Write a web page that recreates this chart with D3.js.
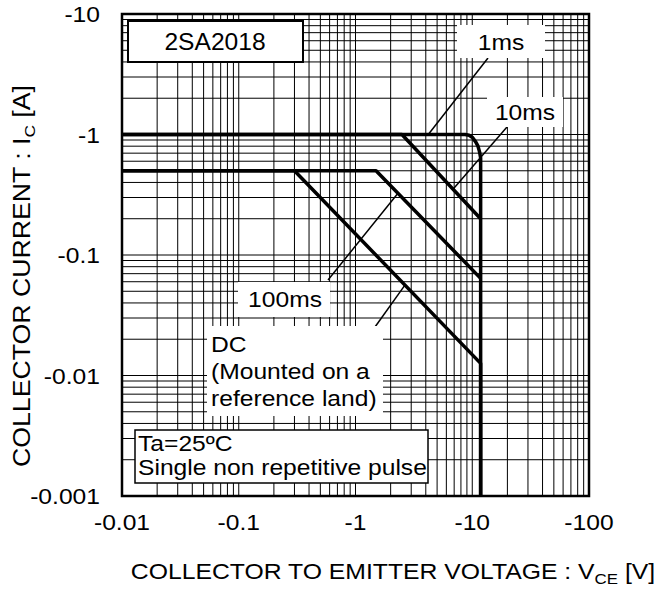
<!DOCTYPE html>
<html>
<head>
<meta charset="utf-8">
<script src="https://cdn.jsdelivr.net/npm/d3@7"></script>
<style>
  body { margin: 0; background: #fff; }
  text { font-family: "Liberation Sans", Arial, sans-serif; fill: #000; }
</style>
</head>
<body>
<svg id="chart" width="661" height="609"></svg>
<script>
// safe operating area, 2SA2018 (values negative, as on the datasheet)
const xTicks = [-0.01, -0.1, -1, -10, -100];
const xTickLabels = ['-0.01', '-0.1', '-1', '-10', '-100'];
const yTicks = [-10, -1, -0.1, -0.01, -0.001];
const yTickLabels = ['-10', '-1', '-0.1', '-0.01', '-0.001'];

// 1ms envelope: Ic max, rounded corner, then Vceo limit
const vce1ms = [-0.01, -8.7, -9.4, -10.05, -10.7, -11.2, -11.55, -11.8, -11.8];
const ic1ms  = [-1, -1, -0.985, -0.943, -0.868, -0.80, -0.717, -0.64, -0.001];
const vce10ms = [-0.01, -2.5, -11.8];
const ic10ms  = [-1, -1, -0.2];
const vce100ms = [-0.01, -1.5, -11.8];
const ic100ms  = [-0.5, -0.5, -0.064];
const vceDC = [-0.01, -0.3, -11.8, -11.8];
const icDC  = [-0.5, -0.5, -0.0126, -0.001];

const curves = [
  { name: '1ms',   vce: vce1ms,   ic: ic1ms },
  { name: '10ms',  vce: vce10ms,  ic: ic10ms },
  { name: '100ms', vce: vce100ms, ic: ic100ms },
  { name: 'DC',    vce: vceDC,    ic: icDC }
];

const pL = 122, pR = 589, pT = 14, pB = 496;
const SX = 1.12;   // the datasheet font is wider than Arial
const svg = d3.select('#chart');

const x = d3.scaleLog().domain([-0.01, -100]).range([pL, pR]);
const y = d3.scaleLog().domain([-0.001, -10]).range([pB, pT]);

// text that is stretched horizontally around its anchor point
function label(parent, px, py, size, anchor, sx = SX) {
  return parent.append('g')
    .attr('transform', `translate(${px},${py}) scale(${sx},1)`)
    .append('text')
    .attr('text-anchor', anchor)
    .style('font-size', size + 'px');
}

// --- grid ---
const grid = svg.append('g');
grid.selectAll('.vg')
  .data(x.ticks())
  .enter().append('line')
  .attr('x1', d => x(d)).attr('x2', d => x(d))
  .attr('y1', pT).attr('y2', pB)
  .attr('stroke', '#000').attr('stroke-width', 1);
grid.selectAll('.hg')
  .data(y.ticks())
  .enter().append('line')
  .attr('x1', pL).attr('x2', pR)
  .attr('y1', d => y(d)).attr('y2', d => y(d))
  .attr('stroke', '#000').attr('stroke-width', 1);

// --- curves ---
const line = d3.line().x(d => x(d[0])).y(d => y(d[1]));
svg.append('g').selectAll('path')
  .data(curves)
  .enter().append('path')
  .attr('d', c => line(c.vce.map((v, i) => [v, c.ic[i]])))
  .attr('fill', 'none')
  .attr('stroke', '#000')
  .attr('stroke-width', 3.5)
  .attr('stroke-linejoin', 'round');

// --- frame ---
svg.append('rect')
  .attr('x', pL).attr('y', pT)
  .attr('width', pR - pL).attr('height', pB - pT)
  .attr('fill', 'none').attr('stroke', '#000').attr('stroke-width', 2.5);

// --- tick labels ---
xTicks.forEach((d, i) => label(svg, x(d), 530, 22, 'middle').text(xTickLabels[i]));
yTicks.forEach((d, i) => label(svg, 100, y(d) + 8, 22, 'end').text(yTickLabels[i]));

// --- axis titles ---
const xt = label(svg, 393, 579, 22, 'middle', 1.125);
xt.append('tspan').text('COLLECTOR TO EMITTER VOLTAGE : V');
xt.append('tspan').attr('dy', 5).style('font-size', '15px').text('CE');
xt.append('tspan').attr('dy', -5).text(' [V]');

const yt = svg.append('g')
  .attr('transform', 'translate(30,276) rotate(-90) scale(1.16,1)')
  .append('text')
  .attr('text-anchor', 'middle')
  .style('font-size', '23px');
yt.append('tspan').text('COLLECTOR CURRENT : I');
yt.append('tspan').attr('dy', 5).style('font-size', '15px').text('C');
yt.append('tspan').attr('dy', -5).text(' [A]');

// --- annotations ---
const ann = svg.append('g');

// part number box
ann.append('rect').attr('x', 128).attr('y', 21).attr('width', 175).attr('height', 41)
  .attr('fill', '#fff').attr('stroke', '#000').attr('stroke-width', 2);
label(ann, 215, 50, 23, 'middle', 1.07).text('2SA2018');

// pointer lines (box edge -> point on the curve)
const pointers = [
  { from: [488, 58],  to: [x(-4.2), y(-1)] },
  { from: [507, 127], to: [x(-6.84), y(-0.352)] },
  { from: [328, 280], to: [x(-2.31), y(-0.325)] },
  { from: [375, 327], to: [x(-2.65), y(-0.0562)] }
];
ann.selectAll('.ptr')
  .data(pointers)
  .enter().append('line')
  .attr('x1', d => d.from[0]).attr('y1', d => d.from[1])
  .attr('x2', d => d.to[0]).attr('y2', d => d.to[1])
  .attr('stroke', '#000').attr('stroke-width', 1.5);

// white label boxes
const boxes = [
  { x: 457, y: 25,  w: 88,  h: 33, lines: ['1ms'],  tx: 501, ty: 50, anchor: 'middle' },
  { x: 487, y: 97,  w: 76,  h: 30, lines: ['10ms'], tx: 525, ty: 120, anchor: 'middle' },
  { x: 238, y: 282, w: 92,  h: 35, lines: ['100ms'], tx: 285, ty: 307, anchor: 'middle' },
  { x: 207, y: 326, w: 176, h: 90, lines: ['DC', '(Mounted on a', 'reference land)'], tx: 211, ty: 352, anchor: 'start' }
];
boxes.forEach(b => {
  ann.append('rect').attr('x', b.x).attr('y', b.y).attr('width', b.w).attr('height', b.h)
    .attr('fill', '#fff');
  const t = label(ann, b.tx, b.ty, 22, b.anchor);
  b.lines.forEach((s, i) => {
    t.append('tspan').attr('x', 0).attr('dy', i === 0 ? 0 : 27).text(s);
  });
});

// condition box
ann.append('rect').attr('x', 135).attr('y', 430).attr('width', 293).attr('height', 53)
  .attr('fill', '#fff').attr('stroke', '#000').attr('stroke-width', 1.5);
const cond = label(ann, 138, 451, 22, 'start');
cond.append('tspan').attr('x', 0).text('Ta=25ºC');
cond.append('tspan').attr('x', 0).attr('dy', 24).text('Single non repetitive pulse');
</script>
</body>
</html>
